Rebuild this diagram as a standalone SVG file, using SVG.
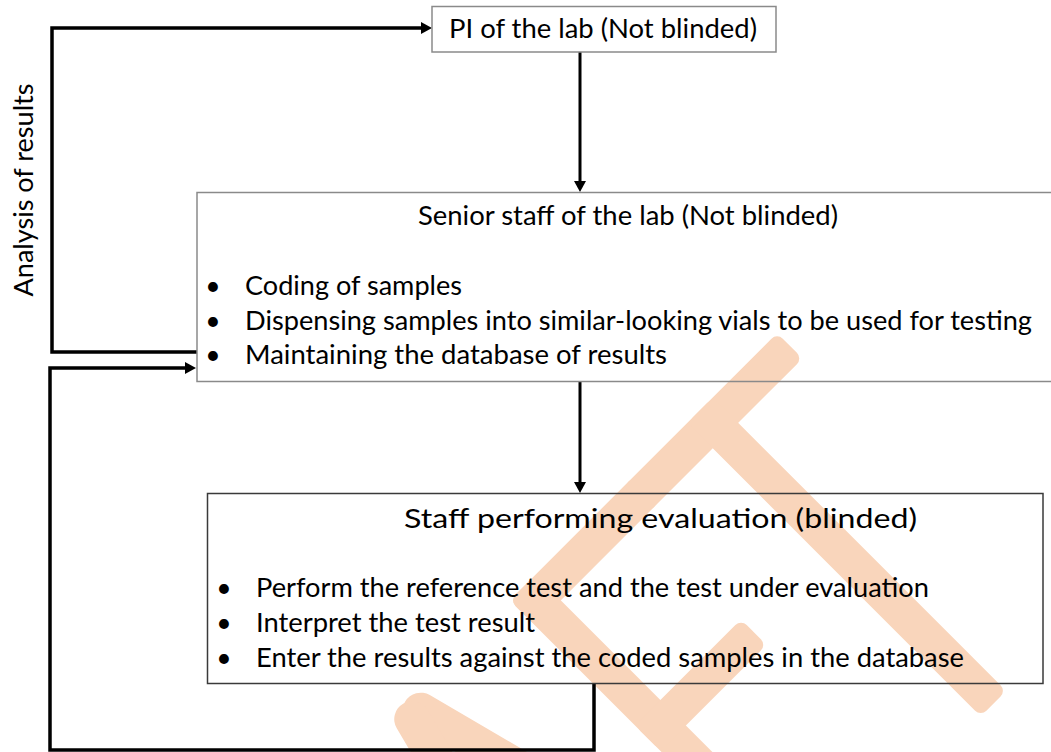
<svg xmlns="http://www.w3.org/2000/svg" width="1051" height="752" viewBox="0 0 1051 752">
  <style>
    .box { fill: none; stroke: #8a8a8a; stroke-width: 1.5; }
    .box.dark { stroke: #3a3a3a; }
    .lbl { font-family: "Lato", "Liberation Sans", sans-serif; font-size: 26.5px; fill: #000; }
    .mid { text-anchor: middle; }
    .wire { fill: none; stroke: #000; stroke-width: 3.5; stroke-linejoin: miter; }
    .wire.thin { stroke-width: 3; }
    .mark { fill: #f9d5bb; }
    .leg { fill: none; stroke: #f9d5bb; stroke-width: 36; stroke-linecap: round; }
  </style>
  <defs>
    <marker id="head" markerUnits="userSpaceOnUse" markerWidth="11" markerHeight="12" refX="0" refY="6" orient="auto">
      <path d="M0,0 L11,6 L0,12 z" fill="#000"/>
    </marker>
  </defs>

  <!-- diagonal watermark lettering, drawn in a rotated frame -->
  <g id="watermark" transform="rotate(-45)">
    <path class="leg" d="M-205,800 L-100,1200"/>
    <path class="leg" d="M-217,800 L-320,1200"/>
    <rect class="mark" x="-64" y="785" width="36" height="430" rx="8"/>
    <rect class="mark" x="-64" y="785" width="176" height="36" rx="8"/>
    <rect class="mark" x="-64" y="962" width="150" height="36" rx="8"/>
    <rect class="mark" x="96" y="785" width="218" height="36" rx="8"/>
    <rect class="mark" x="187" y="785" width="36" height="415" rx="8"/>
  </g>

  <g id="connectors">
    <path class="wire thin" d="M580,52 V181" marker-end="url(#head)"/>
    <path class="wire thin" d="M580,381 V482" marker-end="url(#head)"/>
    <path class="wire" d="M197,352 H52 V28 H421" marker-end="url(#head)"/>
    <path class="wire" d="M594,683 V750 H50 V368 H185" marker-end="url(#head)"/>
  </g>

  <g id="pi">
    <rect class="box" x="432" y="6.5" width="344" height="45.5"/>
    <text class="lbl" x="449" y="38" textLength="308" lengthAdjust="spacingAndGlyphs">PI of the lab (Not blinded)</text>
  </g>

  <g id="senior">
    <rect class="box" x="197" y="192.5" width="870" height="189"/>
    <text class="lbl" x="418" y="225" textLength="420" lengthAdjust="spacingAndGlyphs">Senior staff of the lab (Not blinded)</text>
    <text class="lbl mid" x="213" y="295">•</text>
    <text class="lbl" x="245" y="295" textLength="217" lengthAdjust="spacingAndGlyphs">Coding of samples</text>
    <text class="lbl mid" x="213" y="330">•</text>
    <text class="lbl" x="245" y="330" textLength="787" lengthAdjust="spacingAndGlyphs">Dispensing samples into similar-looking vials to be used for testing</text>
    <text class="lbl mid" x="213" y="364">•</text>
    <text class="lbl" x="245" y="364" textLength="422" lengthAdjust="spacingAndGlyphs">Maintaining the database of results</text>
  </g>

  <g id="staff">
    <rect class="box dark" x="207.5" y="493.5" width="835.5" height="190"/>
    <text class="lbl" x="404" y="528" textLength="513" lengthAdjust="spacingAndGlyphs">Staff performing evaluation (blinded)</text>
    <text class="lbl mid" x="224" y="597">•</text>
    <text class="lbl" x="256" y="597" textLength="673" lengthAdjust="spacingAndGlyphs">Perform the reference test and the test under evaluation</text>
    <text class="lbl mid" x="224" y="632">•</text>
    <text class="lbl" x="256" y="632" textLength="279" lengthAdjust="spacingAndGlyphs">Interpret the test result</text>
    <text class="lbl mid" x="224" y="667">•</text>
    <text class="lbl" x="256" y="667" textLength="708" lengthAdjust="spacingAndGlyphs">Enter the results against the coded samples in the database</text>
  </g>

  <g id="loop-label">
    <text class="lbl mid" transform="translate(33,190) rotate(-90)" textLength="213" lengthAdjust="spacingAndGlyphs">Analysis of results</text>
  </g>
</svg>
